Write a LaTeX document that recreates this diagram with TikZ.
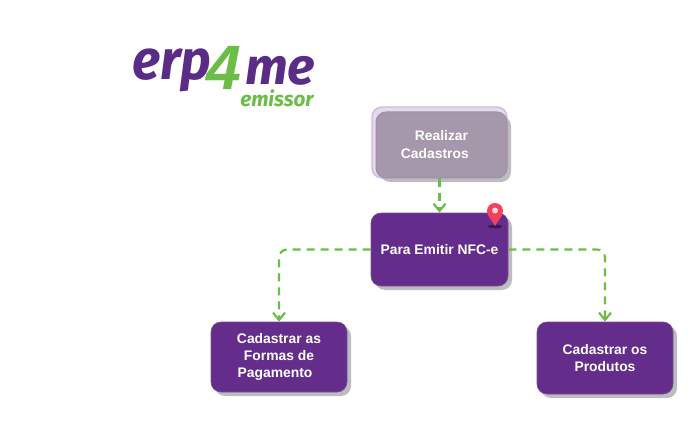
\documentclass[tikz,border=0pt]{standalone}
\usepackage{fontspec}
\setmainfont{Liberation Sans}
\newfontfamily\logofont{Fira Sans}
\usetikzlibrary{arrows.meta,shadows}
\definecolor{purp}{HTML}{642D8C}
\definecolor{logopurp}{HTML}{5B2C86}
\definecolor{grn}{HTML}{6ABD45}
\definecolor{shad}{HTML}{BDBDBD}
\definecolor{faded}{HTML}{A698AB}
\definecolor{fadededge}{HTML}{A08DB5}
\definecolor{halo}{HTML}{E4DAEC}
\definecolor{haloedge}{HTML}{CDBBDC}
\definecolor{pinred}{HTML}{F43F5E}
\definecolor{pinhole}{HTML}{FBD5DC}
\tikzset{
  x=0.75pt,y=-0.75pt,
  boxbase/.style={rounded corners=7.5pt,inner sep=0pt,align=center,text=white,
    font=\bfseries\fontsize{10.4}{12.75}\selectfont,
    drop shadow={shadow xshift=3pt,shadow yshift=-3pt,fill=shad,opacity=1}},
  purplebox/.style={boxbase,fill=purp,draw=purp!85!white,line width=0.5pt},
  fadedbox/.style={boxbase,fill=faded,draw=fadededge,line width=0.75pt},
  conn/.style={draw=grn,line width=1.6pt,dash pattern=on 6pt off 4.5pt,rounded corners=6pt,
    -{Straight Barb[length=5.5pt,width=9pt,line width=1.6pt]}},
  logotext/.style={inner sep=0pt,anchor=base west,font=\logofont\bfseries\itshape},
}
\begin{document}
\begin{tikzpicture}
\useasboundingbox[fill=white] (0,0) rectangle (692,442);
% logo
\node[logotext,text=logopurp] (logoerp) at (132,80) {\scalebox{0.94}[1.0]{\fontsize{42}{42}\selectfont erp}};
\node[logotext,text=grn,font=\fontspec{Liberation Sans}\bfseries\itshape] (logofour) at (206,90) {\fontsize{47}{47}\selectfont 4};
\node[logotext,text=logopurp] (logome) at (245,85) {\fontsize{38.5}{38.5}\selectfont me};
\node[logotext,text=grn] (logoemissor) at (240,107) {\fontsize{15.5}{15.5}\selectfont emissor};
% halo and boxes
\draw[fill=halo,draw=haloedge,line width=1pt,rounded corners=7.5pt] (372,107) rectangle (507,178);
\node[fadedbox,minimum width=98.25pt,minimum height=49.5pt] (realizar) at (441.5,145) {\raisebox{1.2pt}{Realizar}\\\raisebox{0.6pt}{Cadastros}\hspace*{10pt}};
\node[purplebox,minimum width=102.75pt,minimum height=54.75pt] (para) at (439.5,249.5) {Para Emitir NFC-e};
\node[purplebox,minimum width=102pt,minimum height=52.5pt] (formas) at (279,357) {Cadastrar as\\Formas de\\Pagamento\hspace*{6pt}};
\node[purplebox,minimum width=102pt,minimum height=54pt] (produtos) at (605,358) {Cadastrar os\\Produtos};
% connectors
\draw[conn] (para.north |- realizar.south) -- (para.north);
\draw[conn] (para.west) -| (formas.north);
\draw[conn] (para.east) -| (produtos.north);
% pin
\fill[fill=black!55!purp,opacity=.8] (495,226.5) ellipse (7 and 1.8);
\fill[fill=pinred] (495,226) .. controls (492,220) and (487,216.5) .. (487,211)
  .. controls (487,206) and (491,203) .. (495,203)
  .. controls (499,203) and (503,206) .. (503,211)
  .. controls (503,216.5) and (498,220) .. (495,226) -- cycle;
\fill[pinhole] (495,210.5) circle (3);
\end{tikzpicture}
\end{document}
